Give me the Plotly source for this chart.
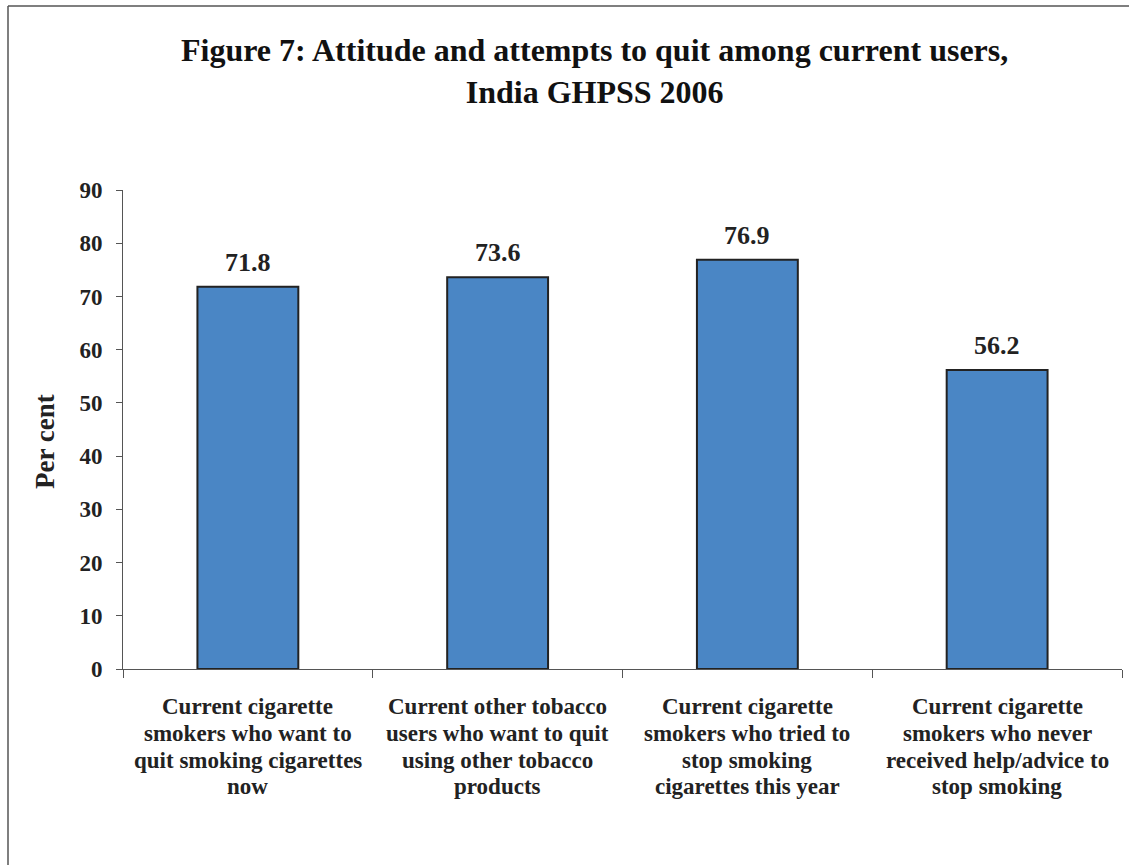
import plotly.graph_objects as go

categories = [
    "Current cigarette<br>smokers who want to<br>quit smoking cigarettes<br>now",
    "Current other tobacco<br>users who want to quit<br>using other tobacco<br>products",
    "Current cigarette<br>smokers who tried to<br>stop smoking<br>cigarettes this year",
    "Current cigarette<br>smokers who never<br>received help/advice to<br>stop smoking",
]
values = [71.8, 73.6, 76.9, 56.2]
y_ticks = [0, 10, 20, 30, 40, 50, 60, 70, 80, 90]

FONT = "Liberation Serif"
W, H = 1129, 865
L, R, T, B = 123, 7, 190, 196
PW, PH = W - L - R, H - T - B

def px(X):
    return (X - L) / PW

def py(Y):
    return (H - B - Y) / PH

fig = go.Figure()
fig.add_trace(go.Bar(
    x=categories, y=values, width=0.404,
    marker=dict(color="#4A86C5", line=dict(color="#222222", width=2)),
    hoverinfo="skip",
))

for c, v in zip(categories, values):
    fig.add_annotation(x=c, y=v, text=f"<b>{v:.1f}</b>", showarrow=False,
                       yanchor="bottom", yshift=8,
                       font=dict(family=FONT, size=26, color="#222222"))

# category labels, one line at a time for tight line spacing
line_centers = [706.5, 733.2, 760, 786.7]
for c in categories:
    for i, part in enumerate(c.split("<br>")):
        fig.add_annotation(x=c, yref="paper", y=py(line_centers[i]),
                           text=f"<b>{part}</b>", showarrow=False,
                           xanchor="center", yanchor="middle",
                           font=dict(family=FONT, size=23, color="#222222"))

fig.add_annotation(xref="paper", yref="paper", x=px(594), y=py(71),
                   text="<b>Figure 7: Attitude and attempts to quit among current users,<br>India GHPSS 2006</b>",
                   showarrow=False, xanchor="center", yanchor="middle",
                   font=dict(family=FONT, size=32, color="#111111"))

fig.add_annotation(xref="paper", yref="paper", x=px(45), y=py(442),
                   text="<b>Per cent</b>", textangle=-90, showarrow=False,
                   xanchor="center", yanchor="middle",
                   font=dict(family=FONT, size=27, color="#222222"))

# outer frame (left and top edges)
fig.add_shape(type="line", xref="paper", yref="paper",
              x0=px(8), x1=px(8), y0=py(6), y1=py(866),
              line=dict(color="#555555", width=1.5))
fig.add_shape(type="line", xref="paper", yref="paper",
              x0=px(8), x1=px(1130), y0=py(6), y1=py(6),
              line=dict(color="#555555", width=1.5))

fig.update_layout(
    width=W, height=H,
    margin=dict(l=L, r=R, t=T, b=B),
    paper_bgcolor="white", plot_bgcolor="white",
    showlegend=False,
    font=dict(family=FONT, color="#222222"),
    xaxis=dict(
        type="category", range=[-0.5, 3.5],
        tickson="boundaries", ticks="outside", ticklen=8, tickwidth=1,
        tickcolor="#555555", showline=True, linecolor="#555555", linewidth=1,
        showgrid=False, zeroline=False, showticklabels=False,
    ),
    yaxis=dict(
        range=[0, 90], tickvals=y_ticks,
        ticktext=[f"<b>{t}</b>" for t in y_ticks],
        ticks="outside", ticklen=6, tickwidth=1, tickcolor="#555555",
        showline=True, linecolor="#555555", linewidth=1,
        showgrid=False, zeroline=False,
        tickfont=dict(family=FONT, size=23, color="#222222"),
        ticklabelstandoff=9,
    ),
)

fig.write_html("out.html")
